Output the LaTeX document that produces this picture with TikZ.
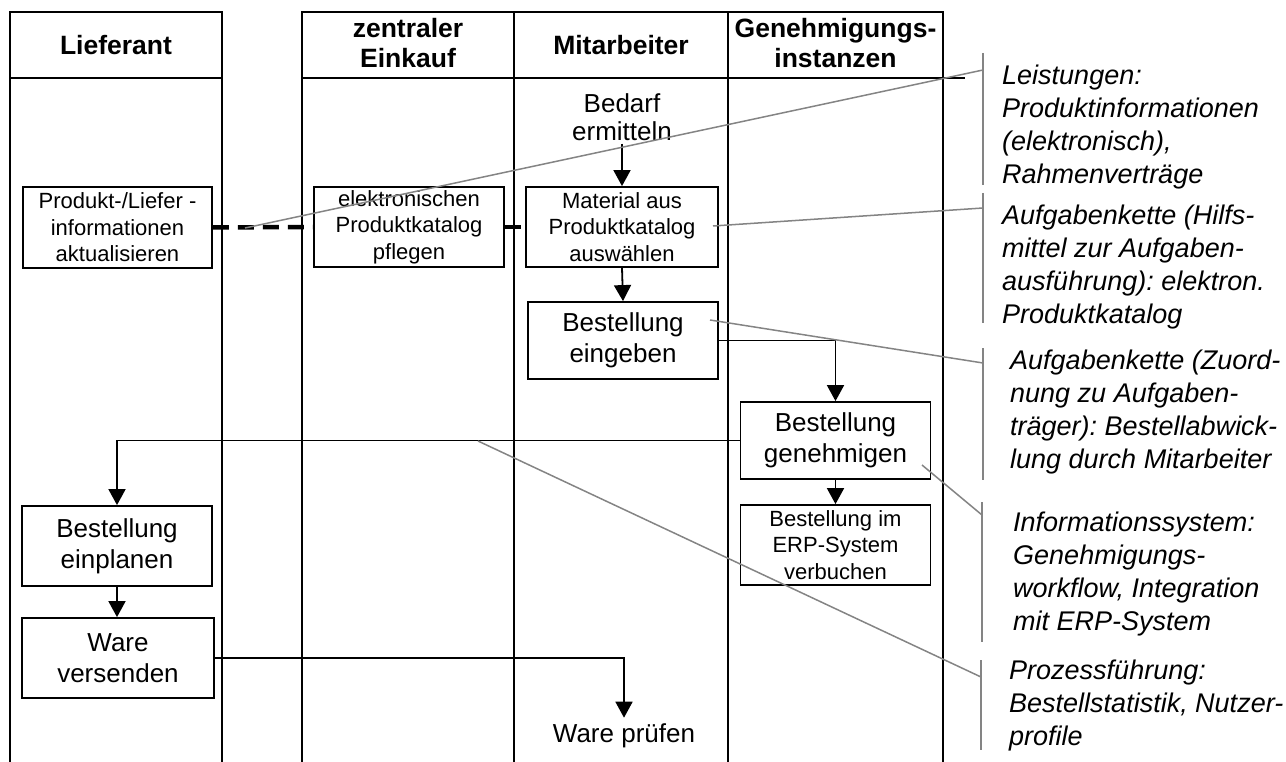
\documentclass[tikz,border=0pt]{standalone}
\usepackage{fontspec}
\setmainfont{Liberation Sans}
\usetikzlibrary{arrows.meta}
\frenchspacing
\definecolor{calloutgray}{RGB}{132,132,132}
\newcommand\txtbig{\fontsize{26}{31}\selectfont}
\newcommand\txtsmall{\fontsize{22}{26.5}\selectfont}
\newcommand\txthead{\bfseries\fontsize{26.5}{30}\selectfont}
\newcommand\txtnote{\itshape\fontsize{27}{33}\selectfont}
\begin{document}
\begin{tikzpicture}[x={(1pt,0pt)}, y={(0pt,-1pt)},
  lane/.style={line width=1.9pt},
  lanehead/.style={font=\txthead, align=center, inner sep=0pt},
  task/.style={draw, line width=1.8pt, minimum width=190pt, minimum height=79pt,
               align=center, inner sep=0pt},
  bigtask/.style={task, font=\txtbig},
  smalltask/.style={task, font=\txtsmall},
  plain/.style={font=\txtbig, align=center, inner sep=3pt},
  flow/.style={line width=1.8pt, -{Triangle[length=16pt,width=17pt]}},
  dashlink/.style={line width=4.5pt, dash pattern=on 16pt off 9pt},
  callout/.style={draw=calloutgray, line width=1.5pt},
  note/.style={font=\txtnote, align=left, anchor=north west, inner sep=0pt}]

\useasboundingbox (0,0) rectangle (1286,762);
\clip (0,0) rectangle (1286,762);

% swimlanes
\draw[lane] (10,770) -- (10,12) -- (222,12) -- (222,770);
\draw[lane] (10,78) -- (222,78);
\draw[lane] (302,770) -- (302,12) -- (943,12) -- (943,770);
\draw[lane] (514,12) -- (514,770);
\draw[lane] (728,12) -- (728,770);
\draw[lane] (302,78) -- (965,78);

\node[lanehead] (hLief) at (116,45) {Lieferant};
\node[lanehead] (hEink) at (408,43) {zentraler\\Einkauf};
\node[lanehead] (hMit)  at (621,45) {Mitarbeiter};
\node[lanehead] (hGen)  at (835.5,43) {Genehmigungs-\\instanzen};

% tasks
\node[smalltask, minimum width=189pt, minimum height=81pt] (prod) at (117.5,227.5)
  {Produkt-/Liefer -\\informationen\\aktualisieren};
\node[smalltask, minimum height=80pt] (pfl) at (409,227)
  {elektronischen\\Produktkatalog\\pflegen};
\node[smalltask, minimum width=192pt, minimum height=80pt] (mat) at (622,227)
  {Material aus\\Produktkatalog\\auswählen};
\node[plain, font=\fontsize{26}{28}\selectfont] (bedarf) at (622,117) {Bedarf\\ermitteln};
\node[bigtask, minimum height=77pt] (eing) at (623,340.5) {Bestellung\\eingeben};
\node[bigtask, minimum height=77pt] (gen) at (835.5,440.5) {Bestellung\\genehmigen};
\node[smalltask, minimum height=80pt] (erp) at (835.5,545)
  {Bestellung im\\ERP-System\\verbuchen};
\node[bigtask, minimum height=80pt] (einpl) at (117,546) {Bestellung\\einplanen};
\node[bigtask, minimum width=192pt, minimum height=80pt] (vers) at (118,658) {Ware\\versenden};
\node[plain, inner ysep=6pt] (pruefen) at (624,736) {Ware prüfen};

% information links
\draw[dashlink] (prod.east) -- (pfl.west);
\draw[dashlink] (pfl.east) -- (mat.west);

% control flow
\draw[flow] (bedarf.south) -- (mat.north);
\draw[flow] (mat.south) -- (eing.north);
\draw[flow] (eing.east) -| (gen.north);
\draw[flow] (gen.south) -- (erp.north);
\draw[flow] (gen.west) -| (einpl.north);
\draw[flow] (einpl.south) -- (einpl.south |- vers.north);
\draw[flow] (vers.east) -| (pruefen.north);

% annotations with brackets
\node[note] (n1) at (1002,65) {Leistungen:\\Produktinformationen\\(elektronisch),\\Rahmenverträge};
\node[note] (n2) at (1002,205) {Aufgabenkette (Hilfs-\\mittel zur Aufgaben-\\ausführung): elektron.\\Produktkatalog};
\node[note] (n3) at (1010,350) {Aufgabenkette (Zuord-\\nung zu Aufgaben-\\träger): Bestellabwick-\\lung durch Mitarbeiter};
\node[note] (n4) at (1013,512) {Informationssystem:\\Genehmigungs-\\workflow, Integration\\mit ERP-System};
\node[note] (n5) at (1009,660) {Prozessführung:\\Bestellstatistik, Nutzer-\\profile};

\coordinate (b1a) at (983,53);  \coordinate (b1b) at (983,185);
\coordinate (b2a) at (983,193); \coordinate (b2b) at (983,323);
\coordinate (b3a) at (983,348); \coordinate (b3b) at (983,480);
\coordinate (b4a) at (982,502); \coordinate (b4b) at (982,642);
\coordinate (b5a) at (981,660); \coordinate (b5b) at (981,750);
\draw[callout] (b1a) -- (b1b);
\draw[callout] (b2a) -- (b2b);
\draw[callout] (b3a) -- (b3b);
\draw[callout] (b4a) -- (b4b);
\draw[callout] (b5a) -- (b5b);

\coordinate (p1) at (245,228);
\coordinate (p2) at (713,226);
\coordinate (p3) at (710,320);
\coordinate (p4) at (922,465);
\coordinate (p5) at (478,441);
\draw[callout] (p1) -- (b1a |- 0,70);
\draw[callout] (p2) -- (b2a |- 0,208);
\draw[callout] (p3) -- (b3a |- 0,363);
\draw[callout] (p4) -- (b4a |- 0,515);
\draw[callout] (p5) -- (b5a |- 0,677);
\end{tikzpicture}
\end{document}
